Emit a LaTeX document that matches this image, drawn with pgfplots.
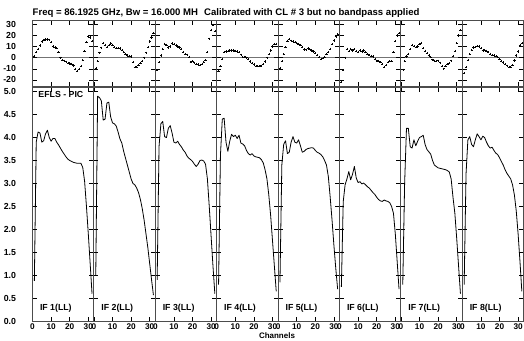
\documentclass[border=0pt]{standalone}
\usepackage{fontspec}
\setmainfont{Liberation Sans}
\usepackage{pgfplots}
\usepackage{pgfplotstable}
\pgfplotsset{compat=1.18}

\pgfplotstableread{
ch a1 a2 a3 a4 a5 a6 a7 a8
1 0.88 1.00 0.90 0.80 0.85 0.75 0.80 0.80
2 3.90 4.90 3.80 3.60 3.40 2.60 3.00 3.20
3 4.12 4.87 4.30 4.40 3.85 2.97 4.20 3.95
4 4.10 4.80 4.35 4.42 3.93 3.10 4.20 4.02
5 3.90 4.38 4.02 3.90 3.65 3.26 3.80 3.85
6 3.93 4.40 4.00 3.70 3.68 3.08 3.77 3.80
7 4.08 4.75 4.20 3.92 3.90 3.20 3.95 3.95
8 4.16 4.77 4.26 4.07 4.02 3.37 3.82 4.08
9 4.00 4.45 4.10 4.02 3.90 3.12 3.92 4.02
10 3.92 4.32 3.90 4.05 3.88 3.02 4.00 3.95
11 3.98 4.30 3.88 3.98 3.95 3.04 4.02 4.03
12 3.98 4.25 3.92 4.05 3.82 2.99 4.05 4.00
13 3.90 4.12 3.85 3.88 3.68 3.01 3.85 3.90
14 3.84 3.97 3.80 3.86 3.70 2.97 3.74 3.82
15 3.77 3.88 3.73 3.82 3.74 2.93 3.69 3.77
16 3.70 3.70 3.68 3.72 3.76 2.90 3.64 3.79
17 3.64 3.55 3.60 3.65 3.77 2.85 3.50 3.72
18 3.58 3.40 3.55 3.62 3.78 2.80 3.40 3.66
19 3.53 3.25 3.52 3.65 3.77 2.76 3.37 3.63
20 3.50 3.10 3.48 3.60 3.72 2.70 3.34 3.56
21 3.48 3.00 3.42 3.58 3.68 2.65 3.33 3.48
22 3.46 2.97 3.37 3.57 3.66 2.62 3.32 3.40
23 3.45 2.90 3.42 3.56 3.63 2.61 3.31 3.30
24 3.44 2.80 3.50 3.52 3.58 2.64 3.30 3.22
25 3.44 2.65 3.51 3.45 3.50 2.62 3.28 3.16
26 3.44 2.45 3.49 3.30 3.40 2.61 3.25 3.10
27 3.35 2.20 3.42 3.10 3.15 2.58 3.10 2.97
28 3.05 1.90 3.10 2.75 2.70 2.50 2.70 2.75
29 2.50 1.60 2.50 2.30 2.20 2.35 2.35 2.40
30 1.90 1.25 1.85 1.75 1.65 1.90 1.80 1.90
31 1.25 0.90 1.20 1.20 1.15 1.30 1.20 1.30
32 0.60 0.57 0.60 0.65 0.70 0.70 0.60 0.65
}\amp

\pgfplotstableread{
ch p1 p2 p3 p4 p5 p6 p7 p8
1 1.5 -9.3 -11.3 -12.2 -9.2 -22 -10.7 -14
2 5 -3 -4.2 -7.7 -3.3 -11 -3 -8.5
3 8 4.5 2 -1.2 3 0 1 -2
4 11 9 8 4.8 9.5 8 3.5 3
5 14.5 13 12.5 5.6 15.2 6 7.5 7
6 16 11.6 11.6 6.2 16.7 8 11.6 9.2
7 16.3 9.8 9.2 6.5 15.3 6.5 10.4 9.7
8 16.4 11.6 10 6.5 14.6 7.7 9.4 10.2
9 16.2 12.8 12.8 6.5 14.1 6 10 10
10 13.8 11.6 12.2 6.2 13.3 5 12.2 8.6
11 10 9.5 11 5.6 12.5 6.5 13.4 6.5
12 9.2 8.6 10 5 11.5 5.6 8.6 6.8
13 8.6 8.6 9.2 2.7 9.5 6.5 6.2 6.2
14 5 8.3 8 0.3 7.3 4.8 4.2 5
15 0 7 5 0.9 7.2 3 2 3.5
16 -2 5.3 3.3 0 8.3 2.3 0.3 2.3
17 -2.7 3.3 2.7 -1.5 7.5 1.5 -1.8 2
18 -3.6 2 0.8 -3.5 6.5 1 -2.7 1.3
19 -4.8 1.5 -3.9 -5 5.6 -1 -3.3 0.3
20 -5.2 1 -3.3 -6.2 4.2 -2.7 -2.7 -1
21 -5.5 -3.9 -4.5 -7.7 2.2 -2.8 -4.5 -2.8
22 -7 -8.6 -5.5 -7.7 0.6 -4 -7.7 -4.3
23 -10 -8.6 -6.2 -7.7 -1.5 -6 -9.8 -5.8
24 -12 -6.5 -6.8 -7.1 -0.6 -8.6 -7.7 -7.2
25 -10 -4.8 -5.5 -5.6 0.8 -6.5 -6 -8.2
26 -7.5 -3 -4 -3.5 3 -4 -4.8 -8.6
27 -2 0 -2.4 0 5 -3.3 -2.7 -6.5
28 6 4.5 5 3 8 -3 1.2 -2.5
29 14 9.5 17 6.5 12 5 6 2
30 19 14.6 25 10 15.5 15 13 5.5
31 18.2 18.2 29.5 12.2 19 20 20 11.5
32 15 22 24 12.5 21 22 24.5 13
}\pha

\pgfplotsset{
  panel/.style={
    scale only axis, width=61.4bp, xmin=0, xmax=33,
    xtick={0,10,20,30},
    tick align=inside, major tick length=4.5bp,
    every tick/.style={black, line width=0.6bp},
    axis line style={draw=black!70, line width=1bp},
    /pgf/number format/assume math mode=true,
    tick label style={font=\bfseries\fontsize{8.8}{10}\selectfont},
    xticklabel style={font=\bfseries\fontsize{8.3}{10}\selectfont},
    yticklabel style={xshift=-13bp},
    anchor=south west,
  },
  bottompanel/.style={
    height=234.3bp, ymin=0, ymax=5.1,
    ytick={0,0.5,1,1.5,2,2.5,3,3.5,4,4.5,5},
    yticklabel style={/pgf/number format/.cd, fixed, fixed zerofill, precision=1},
    xticklabel style={yshift=1bp},
  },
  toppanel/.style={
    height=66.3bp, ymin=-26.3, ymax=33.2,
    ytick={-20,-10,0,10,20,30}, xticklabel={\relax},
    extra y ticks={0}, extra y tick labels={\relax},
    extra y tick style={grid=major, major grid style={black!55, line width=1bp}},
  },
  nolab/.style={yticklabel={\relax}},
  ampline/.style={black, line width=0.8bp, line join=round},
  phmark/.style={only marks, mark=+, mark size=1.1bp, mark options={black, line width=0.5bp}},
}

\begin{document}
\begin{tikzpicture}
\useasboundingbox (0,0) rectangle (524bp,341bp);
% panel 1
\begin{axis}[panel, bottompanel, at={(32.5bp,19.7bp)}]
  \addplot[ampline] table[x=ch, y=a1] {\amp};
  \node[font=\bfseries\fontsize{8.8}{10}\selectfont, anchor=west] at (rel axis cs:0.04,0.967) {EFLS - PIC};
  \node[font=\bfseries\fontsize{8.8}{10}\selectfont] at (rel axis cs:0.38,0.057) {IF 1(LL)};
\end{axis}
\begin{axis}[panel, toppanel, at={(32.5bp,254bp)}]
  \addplot[phmark] table[x=ch, y=p1] {\pha};
\end{axis}
\foreach \k in {2,...,8}{
  \pgfmathsetmacro\xo{32.5+61.4*(\k-1)}
  \begin{axis}[panel, bottompanel, nolab, at={(\xo bp,19.7bp)}]
    \addplot[ampline] table[x=ch, y=a\k] {\amp};
    \node[font=\bfseries\fontsize{8.8}{10}\selectfont] at (rel axis cs:0.38,0.057) {IF \k(LL)};
  \end{axis}
  \begin{axis}[panel, toppanel, nolab, at={(\xo bp,254bp)}]
    \addplot[phmark] table[x=ch, y=p\k] {\pha};
  \end{axis}
}
\node[anchor=west, font=\bfseries\fontsize{9.6}{11}\selectfont, inner sep=0pt] at (32.5bp,328bp) {Freq = 86.1925 GHz, Bw = 16.000 MH};
\node[anchor=west, font=\bfseries\fontsize{9.6}{11}\selectfont, inner sep=0pt] at (204bp,328bp) {Calibrated with CL \# 3 but no bandpass applied};
\node[font=\bfseries\fontsize{8}{9}\selectfont, inner sep=0pt] at (277bp,5bp) {Channels};
\end{tikzpicture}
\end{document}
